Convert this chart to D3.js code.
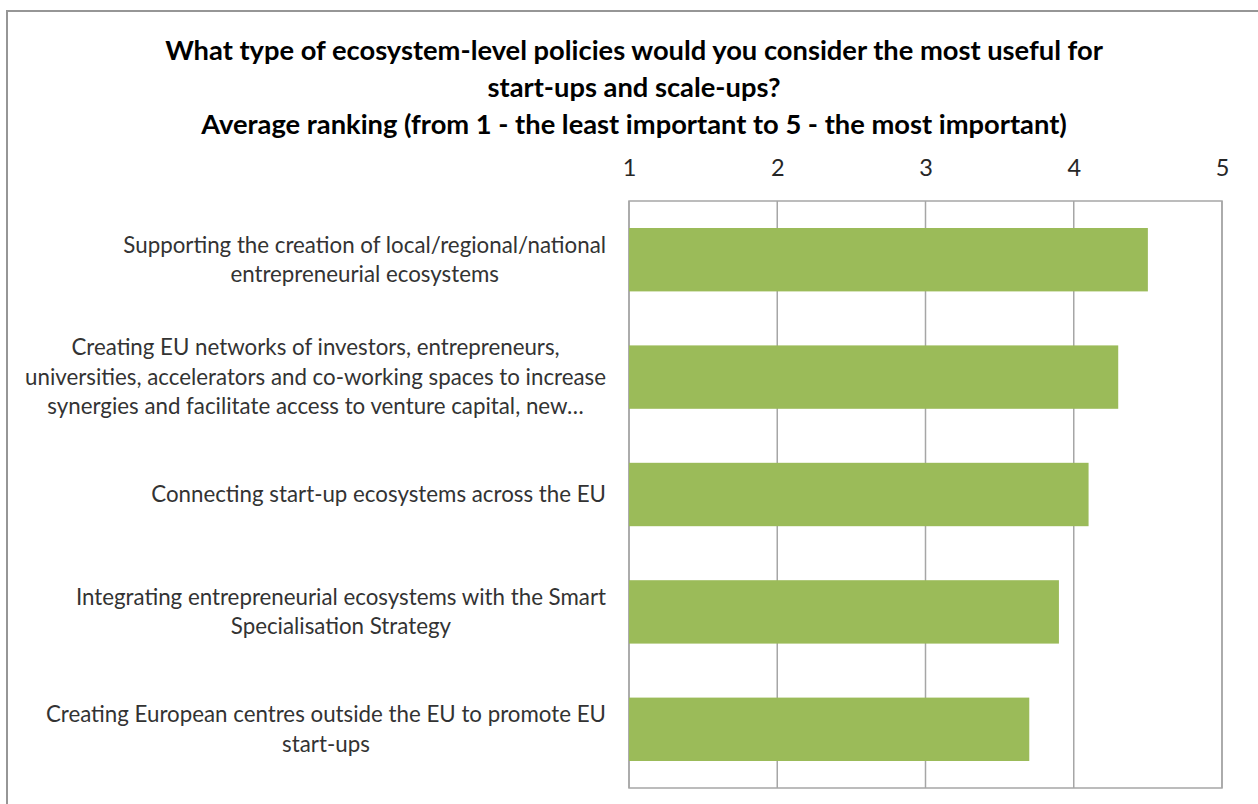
<!DOCTYPE html>
<html>
<head>
<meta charset="utf-8">
<script src="https://cdn.jsdelivr.net/npm/d3@7"></script>
<style>
  html, body { margin: 0; padding: 0; background: #fff; }
  svg { display: block; }
</style>
</head>
<body>
<svg id="chart" width="1258" height="804"></svg>
<script>
// Chart title lines
const titleLines = [
  "What type of ecosystem-level policies would you consider the most useful for",
  "start-ups and scale-ups?",
  "Average ranking (from 1 - the least important to 5 - the most important)"
];

// Policy categories, each split into display lines
const categories = [
  ["Supporting the creation of local/regional/national", "entrepreneurial ecosystems"],
  ["Creating EU networks of investors, entrepreneurs,", "universities, accelerators and co-working spaces to increase", "synergies and facilitate access to venture capital, new\u2026"],
  ["Connecting start-up ecosystems across the EU"],
  ["Integrating entrepreneurial ecosystems with the Smart", "Specialisation Strategy"],
  ["Creating European centres outside the EU to promote EU", "start-ups"]
];

// Average ranking per category
const values = [4.5, 4.3, 4.1, 3.9, 3.7];

// Axis tick values
const tickValues = [1, 2, 3, 4, 5];

const font = "Lato, 'Open Sans', sans-serif";
const svg = d3.select("#chart");

// Outer chart frame
svg.append("rect")
  .attr("x", 7).attr("y", 11)
  .attr("width", 1270).attr("height", 820)
  .attr("fill", "#fff")
  .attr("stroke", "#969696")
  .attr("stroke-width", 2);

// Title
svg.append("g").selectAll("text")
  .data(titleLines)
  .join("text")
  .attr("x", 634)
  .attr("y", (d, i) => 50 + i * 37)
  .attr("dy", "0.35em")
  .attr("text-anchor", "middle")
  .attr("font-family", font)
  .attr("font-weight", "bold")
  .attr("font-size", 27.3)
  .attr("fill", "#000")
  .text(d => d);

const plot = { left: 629, right: 1222, top: 201, bottom: 788 };

const x = d3.scaleLinear()
  .domain([1, 5])
  .range([plot.left, plot.right]);

const y = d3.scaleBand()
  .domain(d3.range(categories.length))
  .range([plot.top, plot.bottom])
  .paddingInner(0.46)
  .paddingOuter(0.23);

// Vertical gridlines
svg.append("g").selectAll("line")
  .data(tickValues)
  .join("line")
  .attr("x1", d => x(d)).attr("x2", d => x(d))
  .attr("y1", plot.top).attr("y2", plot.bottom)
  .attr("stroke", "#a6a6a6")
  .attr("stroke-width", 1.5);

// Plot area border
svg.append("rect")
  .attr("x", plot.left).attr("y", plot.top)
  .attr("width", plot.right - plot.left)
  .attr("height", plot.bottom - plot.top)
  .attr("fill", "none")
  .attr("stroke", "#a6a6a6")
  .attr("stroke-width", 1.5);

// Top axis labels
const axis = d3.axisTop(x).tickValues(tickValues).tickSize(0).tickPadding(0).tickFormat(d3.format("d"));
const axisG = svg.append("g")
  .attr("transform", `translate(0, ${168})`)
  .call(axis);
axisG.select(".domain").remove();
axisG.selectAll("text")
  .attr("dy", "0.35em")
  .attr("font-family", font)
  .attr("font-size", 23.5)
  .attr("fill", "#262626");

// Bars
svg.append("g").selectAll("rect")
  .data(values)
  .join("rect")
  .attr("x", x(1))
  .attr("y", (d, i) => y(i))
  .attr("width", d => x(d) - x(1))
  .attr("height", y.bandwidth())
  .attr("fill", "#9bbb59");

// Category labels: centred line block, right edge aligned next to the plot
const labelRight = 606;
const lineH = 29.5;
const labelG = svg.append("g");
categories.forEach((lines, i) => {
  const cy = y(i) + y.bandwidth() / 2;
  const t = labelG.append("text")
    .attr("font-family", font)
    .attr("font-size", 22.3)
    .attr("fill", "#333")
    .attr("text-anchor", "middle");
  const spans = t.selectAll("tspan")
    .data(lines)
    .join("tspan")
    .attr("y", (d, j) => cy + (j - (lines.length - 1) / 2) * lineH)
    .attr("dy", "0.35em")
    .text(d => d);
  let maxW = 0;
  spans.each(function () { maxW = Math.max(maxW, this.getComputedTextLength()); });
  spans.attr("x", labelRight - maxW / 2);
});
</script>
</body>
</html>
